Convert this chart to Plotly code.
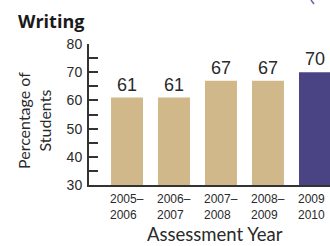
import plotly.graph_objects as go

title_text = "Writing"
years_top = ["2005–", "2006–", "2007–", "2008–", "2009"]
years_bottom = ["2006", "2007", "2008", "2009", "2010"]
categories = ["2005–2006", "2006–2007", "2007–2008", "2008–2009", "2009–2010"]
values = [61, 61, 67, 67, 70]
bar_colors = ["#D1B88A", "#D1B88A", "#D1B88A", "#D1B88A", "#4B4484"]
y_tick_vals = [30, 35, 40, 45, 50, 55, 60, 65, 70, 75, 80]
y_tick_text = ["30", "", "40", "", "50", "", "60", "", "70", "", "80"]

W, H = 330, 246
L, R, T, B = 89, 0, 44, 61
PW, PH = W - L - R, H - T - B
text_color = "#2a2a2a"
x_idx = list(range(len(categories)))


def px(x):
    return (x - L) / PW


def py(y):
    return (H - B - y) / PH


fig = go.Figure()
fig.add_trace(go.Bar(
    x=x_idx, y=[v - 30 for v in values], base=30,
    width=0.68,
    marker=dict(color=bar_colors, line=dict(width=0)),
    text=[str(v) for v in values], textposition="outside",
    textfont=dict(family="Liberation Sans, Arial, sans-serif", size=18, color=text_color),
    cliponaxis=False, hoverinfo="skip",
))

annotations = []
for i in x_idx:
    annotations.append(dict(
        x=i - 0.34, y=0, xref="x", yref="paper", xanchor="left", yanchor="top",
        xshift=-3, yshift=-5, align="left", showarrow=False,
        text=years_top[i] + "<br>" + years_bottom[i],
        font=dict(family="Liberation Sans, Arial, sans-serif", size=12, color=text_color),
    ))
annotations.append(dict(
    x=px(34), y=py(121), xref="paper", yref="paper", xanchor="center", yanchor="middle",
    textangle=-90, showarrow=False,
    text="Percentage of<br>Students",
    font=dict(family="Lato, sans-serif", size=16, color=text_color),
))
annotations.append(dict(
    x=px(215), y=py(234), xref="paper", yref="paper", xanchor="center",
    yanchor="middle", showarrow=False, text="Assessment Year",
    font=dict(family="Lato, sans-serif", size=18.5, color=text_color),
))
annotations.append(dict(
    x=px(16), y=py(21), xref="paper", yref="paper", xanchor="left",
    yanchor="middle", showarrow=False, text="<b>" + title_text + "</b>",
    font=dict(family="Open Sans, sans-serif", size=18, color="#1a1a1a"),
))

# cut-off decorative fragment at the top right
fig.add_shape(type="line", xref="paper", yref="paper",
              x0=px(311), x1=px(314), y0=py(0), y1=py(4),
              line=dict(color="#6a5fa8", width=1.5))

fig.update_layout(
    width=W, height=H,
    margin=dict(l=L, r=R, t=T, b=B, pad=0),
    paper_bgcolor="white", plot_bgcolor="white",
    showlegend=False,
    annotations=annotations,
    xaxis=dict(range=[-0.809, 4.32], showticklabels=False, ticks="",
               showgrid=False, zeroline=False, showline=True,
               linecolor="#333333", linewidth=2, fixedrange=True),
    yaxis=dict(range=[30, 80], tickvals=y_tick_vals, ticktext=y_tick_text,
               ticks="inside", ticklen=9, tickwidth=1.5, tickcolor="#333333",
               showgrid=False, zeroline=False, showline=True,
               linecolor="#333333", linewidth=2,
               tickfont=dict(family="Liberation Sans, Arial, sans-serif", size=14, color=text_color),
               ticklabelstandoff=2, fixedrange=True, automargin=False),
)

fig.write_html("out.html", config={"displayModeBar": False},
               post_script="document.body.style.margin='0';document.body.style.overflow='hidden';")
